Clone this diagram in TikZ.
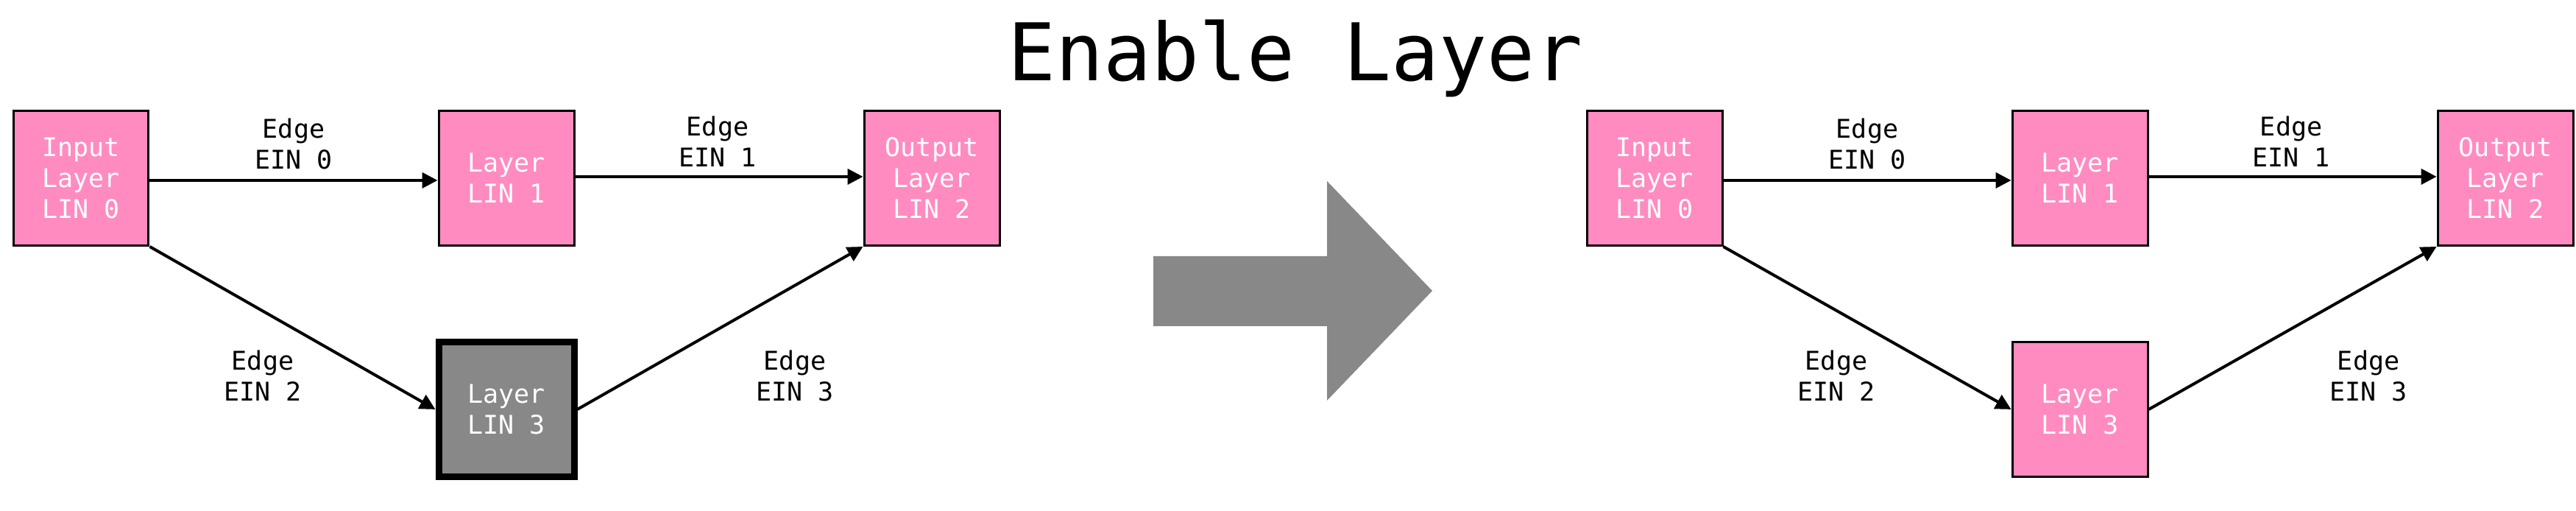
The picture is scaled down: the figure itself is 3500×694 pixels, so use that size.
\documentclass[tikz,border=0pt]{standalone}
\usepackage{fontspec}
\usetikzlibrary{arrows.meta}
\newfontfamily\dmono{DejaVu Sans Mono}
\definecolor{pinkc}{HTML}{FF8BC0}
\definecolor{grayc}{HTML}{888888}
\tikzset{
  layerbox/.style={draw=black, line width=0.3pt, fill=pinkc, text=white,
    minimum width=18.4pt, minimum height=18.3pt, inner sep=0pt, align=center,
    font=\dmono\fontsize{3.5pt}{4.2pt}\selectfont},
  offbox/.style={layerbox, fill=grayc, line width=0.9pt},
  elabel/.style={align=center, inner sep=0pt, text=black,
    font=\dmono\fontsize{3.5pt}{4.2pt}\selectfont},
  conn/.style={-{Triangle[length=2.1pt,width=2.1pt]}, line width=0.4pt, draw=black},
  titletext/.style={inner sep=0pt, font=\dmono\fontsize{10.8pt}{13pt}\selectfont}
}
\begin{document}
\begin{tikzpicture}[x=0.1pt,y=-0.1pt]
\useasboundingbox (0,0) rectangle (3500,694);
\node[titletext, anchor=base] (title) at (1760,110) {Enable Layer};
% left graph
\node[layerbox] (a0) at (110,242) {Input\\Layer\\LIN 0};
\node[layerbox] (a1) at (688,242) {Layer\\LIN 1};
\node[layerbox] (a2) at (1266,242) {Output\\Layer\\LIN 2};
\node[offbox] (a3) at (688,556) {Layer\\LIN 3};
\draw[conn] ([yshift=-0.3pt]a0.east) -- ([yshift=-0.3pt]a1.west);
\draw[conn] ([yshift=0.2pt]a1.east) -- ([yshift=0.2pt]a2.west);
\draw[conn] (a0.south east) -- (a3.west);
\draw[conn] (a3.east) -- (a2.south west);
\node[elabel] (ae0) at (399,195) {Edge\\EIN 0};
\node[elabel] (ae1) at (975,192) {Edge\\EIN 1};
\node[elabel] (ae2) at (357,510) {Edge\\EIN 2};
\node[elabel] (ae3) at (1080,510) {Edge\\EIN 3};
% big arrow
\fill[grayc] (1567,348) -- (1803,348) -- (1803,246) -- (1946,395) -- (1803,544) -- (1803,443) -- (1567,443) -- cycle;
% right graph
\node[layerbox] (b0) at (2248,242) {Input\\Layer\\LIN 0};
\node[layerbox] (b1) at (2826,242) {Layer\\LIN 1};
\node[layerbox] (b2) at (3404,242) {Output\\Layer\\LIN 2};
\node[layerbox] (b3) at (2826,556) {Layer\\LIN 3};
\draw[conn] ([yshift=-0.3pt]b0.east) -- ([yshift=-0.3pt]b1.west);
\draw[conn] ([yshift=0.2pt]b1.east) -- ([yshift=0.2pt]b2.west);
\draw[conn] (b0.south east) -- (b3.west);
\draw[conn] (b3.east) -- (b2.south west);
\node[elabel] (be0) at (2537,195) {Edge\\EIN 0};
\node[elabel] (be1) at (3113,192) {Edge\\EIN 1};
\node[elabel] (be2) at (2495,510) {Edge\\EIN 2};
\node[elabel] (be3) at (3218,510) {Edge\\EIN 3};
\end{tikzpicture}
\end{document}
